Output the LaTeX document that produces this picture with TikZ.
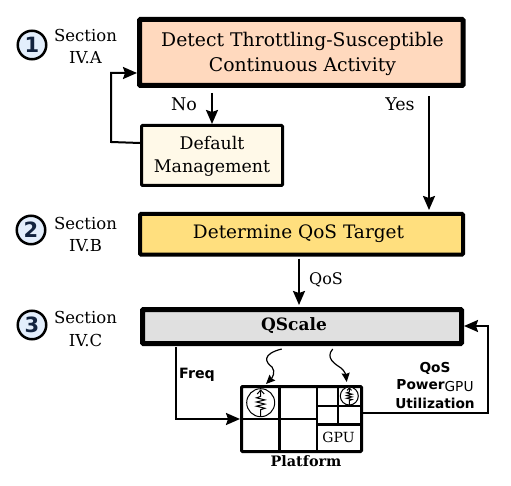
\documentclass[tikz,border=0pt]{standalone}
\usepackage{fontspec}
\setmainfont{DejaVu Serif}
\setsansfont{DejaVu Sans}
\usetikzlibrary{arrows.meta}
\definecolor{detectcol}{HTML}{FFD9BE}
\definecolor{mgmtcol}{HTML}{FFF9E8}
\definecolor{targetcol}{HTML}{FFDF7E}
\definecolor{scalecol}{HTML}{E0E0E0}
\definecolor{stepcol}{HTML}{E3EEFC}
\definecolor{digitcol}{HTML}{12233F}
\tikzset{
  sensor/.pic={
    \draw[line width=1pt,fill=white] (0,0) circle (1);
    \draw[line width=1pt] (0,1) -- (0,0.5) -- (0.3,0.4) -- (-0.3,0.25) -- (0.3,0.1) -- (-0.3,-0.05) -- (0.3,-0.2) -- (-0.3,-0.35) -- (0,-0.45) -- (0,-0.9);
    \draw[line width=1pt] (-0.25,-0.62) -- (0,-0.9) -- (0.25,-0.62);
  }
}
\begin{document}
\begin{tikzpicture}[x=1pt,y=-1pt,
  box/.style={draw,rounded corners=1pt,align=center,inner sep=0pt},
  lbl/.style={font=\fontsize{#1}{#1}\selectfont,inner sep=0pt},
  lbl/.default=16.5,
  tag/.style={font=\sffamily\bfseries\fontsize{13.7}{14}\selectfont,inner sep=0pt},
  step num/.style={circle,draw,line width=2.5pt,fill=stepcol,text=digitcol,minimum size=28.5pt,inner sep=0pt,font=\sffamily\bfseries\fontsize{21}{21}\selectfont},
  link/.style={line width=2pt,-{Stealth[length=14pt,width=12pt,inset=2pt]}},
  wiggle/.style={line width=1.2pt,-{Stealth[length=9pt,width=8pt,inset=1pt]}}]
\useasboundingbox (0,0) rectangle (511,486);
% steps
\node[step num] (one) at (32,45) {1};
\node[step num] (two) at (31,230) {2};
\node[step num] (three) at (32,325) {3};
\foreach \y/\1/\2 in %
{35/A/secA,223/B/secB,317/C/secC} {
   \node[lbl] (\2) at (85.5,\y) {Section};
   \node[lbl] at (85.5,\y+23) {IV.\1};
}
% boxes
\node[box,line width=5pt,fill=detectcol,minimum width=323.5pt,minimum height=66pt] (detect) at (301.25,52.5) {};
\node[font=\fontsize{18.8}{25}\selectfont,align=center,inner sep=0pt] (detecttxt) at (302.5,54) {Detect Throttling-Susceptible\\Continuous Activity};
\node[box,line width=3pt,fill=mgmtcol,minimum width=141pt,minimum height=60pt] (mgmt) at (212,155.5) {};
\node[font=\fontsize{17.4}{23}\selectfont,align=center,inner sep=0pt] (mgmttxt) at (212,156) {Default\\Management};
\node[box,line width=4pt,fill=targetcol,minimum width=323pt,minimum height=40.7pt] (target) at (301.5,234.3) {};
\node[font=\fontsize{18.5}{18}\selectfont,inner sep=0pt] (targettxt) at (298.5,234) {Determine QoS Target};
\node[box,line width=5pt,fill=scalecol,minimum width=319pt,minimum height=34pt] (qscale) at (302,326.5) {};
\node[font=\bfseries\fontsize{17}{14}\selectfont,inner sep=0pt] (qscaletxt) at (294,326) {QScale};
% platform
\node[box,line width=3pt,fill=white,minimum width=120pt,minimum height=65pt] (plat) at (301.5,419) {};
\coordinate (pa) at (279.5,385);
\coordinate (pb) at (317,385);
\coordinate (pc) at (338,385);
\foreach \a/\b in {pa/plat.south,pb/plat.south} {
   \draw[line width=2.5pt] (\a) -- (\a |- \b);
}
\draw[line width=2.5pt] (pc) -- (338,423);
\draw[line width=2.5pt] (plat.west) -- (317,419);
\draw[line width=2.5pt] (317,406) -- (362,406);
\draw[line width=3pt] (317,424) -- (362,424);
\node[lbl=14] (gpu) at (338.5,437) {GPU};
\pic[scale=14] at (260.7,402.7) {sensor};
\pic[scale=9] at (349.3,396) {sensor};
% labels
\node[lbl=17.5] (no) at (184,104) {No};
\node[lbl=17.5] (yes) at (400,104) {Yes};
\node[lbl=16] (qos) at (326,280) {QoS};
\node[tag,font=\sffamily\bfseries\fontsize{14.2}{14}\selectfont] (freq) at (197,375) {Freq};
\node[tag] (qosb) at (435,368) {QoS};
\node[tag] (pow) at (435,386) {Power\raisebox{-2pt}{\mdseries GPU}};
\node[tag] (util) at (435,403) {Utilization};
\node[font=\bfseries\fontsize{14.4}{14}\selectfont,inner sep=0pt] (platlbl) at (306,461) {Platform};
% connectors
\coordinate (fb) at (detect.west |- 0,73);
\coordinate (fbq) at (qscale.east |- 0,326);
\coordinate (fbm) at (mgmt.west |- 0,143);
\draw[link,shorten <=5pt] (detect.south -| mgmt.north) -- (mgmt.north);
\draw[link] (fbm) -- (111,142) |- (fb);
\draw[link] (429,96) -- (429,210);
\draw[link,shorten <=2pt,shorten >=2pt] (target.south -| 299,0) -- (qscale.north -| 299,0);
\draw[link] (176,347) |- (plat.west);
\draw[link] (plat.east |- 0,413) -- (488,413) |- (fbq);
\draw[wiggle] (281.7,349) .. controls (262,354) and (265,362) .. (272,367) .. controls (276,372) and (272,378) .. (266,384);
\draw[wiggle] (332.7,349) .. controls (325,358) and (335,364) .. (341,368) .. controls (345,371) and (346,376) .. (346.7,382);
\end{tikzpicture}
\end{document}
